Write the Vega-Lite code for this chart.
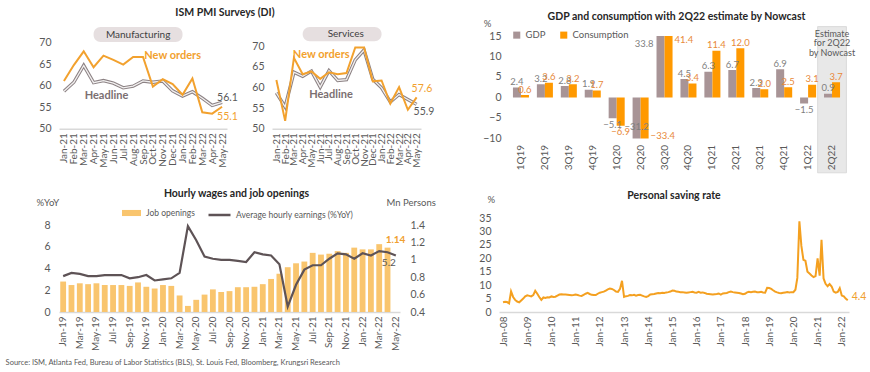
{
  "$schema": "https://vega.github.io/schema/vega-lite/v6.json",
  "background": "white",
  "padding": {"left": 5, "top": 8, "right": 5, "bottom": 4},
  "title": {"text": "Source: ISM, Atlanta Fed, Bureau of Labor Statistics (BLS), St. Louis Fed, Bloomberg, Krungsri Research", "orient": "bottom", "anchor": "start", "fontSize": 7.5, "fontWeight": "normal", "font": "Lato", "color": "#595959", "dx": -28, "offset": 9},
  "resolve": {"scale": {"color": "independent", "fill": "independent", "stroke": "independent"}},
  "datasets": {
    "ism": [
      {"m": "Jan-21", "mh": 58.7, "mn": 61.1, "sh": 58.7, "sn": 61.8},
      {"m": "Feb-21", "mh": 60.8, "mn": 64.8, "sh": 55.3, "sn": 51.9},
      {"m": "Mar-21", "mh": 64.7, "mn": 68.0, "sh": 63.7, "sn": 67.2},
      {"m": "Apr-21", "mh": 60.7, "mn": 64.3, "sh": 62.7, "sn": 63.2},
      {"m": "May-21", "mh": 61.2, "mn": 67.0, "sh": 64.0, "sn": 63.9},
      {"m": "Jun-21", "mh": 60.6, "mn": 66.0, "sh": 60.1, "sn": 62.1},
      {"m": "Jul-21", "mh": 59.5, "mn": 64.9, "sh": 64.1, "sn": 63.7},
      {"m": "Aug-21", "mh": 59.9, "mn": 66.7, "sh": 61.7, "sn": 63.2},
      {"m": "Sep-21", "mh": 61.1, "mn": 66.7, "sh": 61.9, "sn": 63.5},
      {"m": "Oct-21", "mh": 60.8, "mn": 59.8, "sh": 66.7, "sn": 69.7},
      {"m": "Nov-21", "mh": 61.1, "mn": 61.5, "sh": 69.1, "sn": 69.7},
      {"m": "Dec-21", "mh": 58.8, "mn": 60.4, "sh": 62.0, "sn": 61.5},
      {"m": "Jan-22", "mh": 57.6, "mn": 57.9, "sh": 59.9, "sn": 61.7},
      {"m": "Feb-22", "mh": 58.6, "mn": 61.7, "sh": 56.5, "sn": 56.1},
      {"m": "Mar-22", "mh": 57.1, "mn": 53.8, "sh": 58.3, "sn": 60.1},
      {"m": "Apr-22", "mh": 55.4, "mn": 53.5, "sh": 57.1, "sn": 54.6},
      {"m": "May-22", "mh": 56.1, "mn": 55.1, "sh": 55.9, "sn": 57.6}
    ],
    "gdp": [
      {"q": "1Q19", "s": "GDP", "v": 2.4}, {"q": "1Q19", "s": "Consumption", "v": 0.6},
      {"q": "2Q19", "s": "GDP", "v": 3.2}, {"q": "2Q19", "s": "Consumption", "v": 3.6},
      {"q": "3Q19", "s": "GDP", "v": 2.8}, {"q": "3Q19", "s": "Consumption", "v": 3.2},
      {"q": "4Q19", "s": "GDP", "v": 1.9}, {"q": "4Q19", "s": "Consumption", "v": 1.7},
      {"q": "1Q20", "s": "GDP", "v": -5.1}, {"q": "1Q20", "s": "Consumption", "v": -6.9},
      {"q": "2Q20", "s": "GDP", "v": -31.2}, {"q": "2Q20", "s": "Consumption", "v": -33.4},
      {"q": "3Q20", "s": "GDP", "v": 33.8}, {"q": "3Q20", "s": "Consumption", "v": 41.4},
      {"q": "4Q20", "s": "GDP", "v": 4.5}, {"q": "4Q20", "s": "Consumption", "v": 3.4},
      {"q": "1Q21", "s": "GDP", "v": 6.3}, {"q": "1Q21", "s": "Consumption", "v": 11.4},
      {"q": "2Q21", "s": "GDP", "v": 6.7}, {"q": "2Q21", "s": "Consumption", "v": 12.0},
      {"q": "3Q21", "s": "GDP", "v": 2.3}, {"q": "3Q21", "s": "Consumption", "v": 2.0},
      {"q": "4Q21", "s": "GDP", "v": 6.9}, {"q": "4Q21", "s": "Consumption", "v": 2.5},
      {"q": "1Q22", "s": "GDP", "v": -1.5}, {"q": "1Q22", "s": "Consumption", "v": 3.1},
      {"q": "2Q22", "s": "GDP", "v": 0.9}, {"q": "2Q22", "s": "Consumption", "v": 3.7}
    ],
    "wages": [
      {"m": "Jan-19", "ahe": 3.3, "jo": 0.75}, {"m": "Feb-19", "ahe": 3.6, "jo": 0.71},
      {"m": "Mar-19", "ahe": 3.5, "jo": 0.73}, {"m": "Apr-19", "ahe": 3.3, "jo": 0.72},
      {"m": "May-19", "ahe": 3.3, "jo": 0.73}, {"m": "Jun-19", "ahe": 3.4, "jo": 0.71},
      {"m": "Jul-19", "ahe": 3.4, "jo": 0.71}, {"m": "Aug-19", "ahe": 3.4, "jo": 0.71},
      {"m": "Sep-19", "ahe": 3.1, "jo": 0.70}, {"m": "Oct-19", "ahe": 3.2, "jo": 0.74},
      {"m": "Nov-19", "ahe": 3.4, "jo": 0.69}, {"m": "Dec-19", "ahe": 2.9, "jo": 0.67},
      {"m": "Jan-20", "ahe": 3.0, "jo": 0.71}, {"m": "Feb-20", "ahe": 3.1, "jo": 0.70},
      {"m": "Mar-20", "ahe": 3.6, "jo": 0.59}, {"m": "Apr-20", "ahe": 7.9, "jo": 0.47},
      {"m": "May-20", "ahe": 6.6, "jo": 0.54}, {"m": "Jun-20", "ahe": 5.1, "jo": 0.60},
      {"m": "Jul-20", "ahe": 4.9, "jo": 0.66}, {"m": "Aug-20", "ahe": 4.8, "jo": 0.63},
      {"m": "Sep-20", "ahe": 4.8, "jo": 0.64}, {"m": "Oct-20", "ahe": 4.7, "jo": 0.685},
      {"m": "Nov-20", "ahe": 4.6, "jo": 0.685}, {"m": "Dec-20", "ahe": 5.5, "jo": 0.69},
      {"m": "Jan-21", "ahe": 5.3, "jo": 0.72}, {"m": "Feb-21", "ahe": 5.2, "jo": 0.78},
      {"m": "Mar-21", "ahe": 4.4, "jo": 0.84}, {"m": "Apr-21", "ahe": 0.5, "jo": 0.915},
      {"m": "May-21", "ahe": 2.5, "jo": 0.96}, {"m": "Jun-21", "ahe": 3.9, "jo": 0.98},
      {"m": "Jul-21", "ahe": 4.3, "jo": 1.08}, {"m": "Aug-21", "ahe": 4.3, "jo": 1.06},
      {"m": "Sep-21", "ahe": 4.9, "jo": 1.07}, {"m": "Oct-21", "ahe": 5.4, "jo": 1.10},
      {"m": "Nov-21", "ahe": 5.3, "jo": 1.08}, {"m": "Dec-21", "ahe": 4.9, "jo": 1.14},
      {"m": "Jan-22", "ahe": 5.4, "jo": 1.12}, {"m": "Feb-22", "ahe": 5.2, "jo": 1.12},
      {"m": "Mar-22", "ahe": 5.6, "jo": 1.18}, {"m": "Apr-22", "ahe": 5.5, "jo": 1.14},
      {"m": "May-22", "ahe": 5.2, "jo": null}
    ],
    "saving": [
      {"d": "2008-01", "v": 3.6}, {"d": "2008-02", "v": 3.8}, {"d": "2008-03", "v": 3.7}, {"d": "2008-04", "v": 3.2}, {"d": "2008-05", "v": 7.7}, {"d": "2008-06", "v": 5.6}, {"d": "2008-07", "v": 4.5}, {"d": "2008-08", "v": 3.9}, {"d": "2008-09", "v": 3.6}, {"d": "2008-10", "v": 4.3}, {"d": "2008-11", "v": 5.0}, {"d": "2008-12", "v": 5.8},
      {"d": "2009-01", "v": 6.2}, {"d": "2009-02", "v": 6.0}, {"d": "2009-03", "v": 5.8}, {"d": "2009-04", "v": 6.3}, {"d": "2009-05", "v": 7.9}, {"d": "2009-06", "v": 6.8}, {"d": "2009-07", "v": 5.6}, {"d": "2009-08", "v": 4.5}, {"d": "2009-09", "v": 5.4}, {"d": "2009-10", "v": 5.2}, {"d": "2009-11", "v": 5.5}, {"d": "2009-12", "v": 5.4},
      {"d": "2010-01", "v": 5.8}, {"d": "2010-02", "v": 5.6}, {"d": "2010-03", "v": 5.7}, {"d": "2010-04", "v": 6.1}, {"d": "2010-05", "v": 6.5}, {"d": "2010-06", "v": 6.6}, {"d": "2010-07", "v": 6.5}, {"d": "2010-08", "v": 6.5}, {"d": "2010-09", "v": 6.4}, {"d": "2010-10", "v": 6.3}, {"d": "2010-11", "v": 6.2}, {"d": "2010-12", "v": 6.3},
      {"d": "2011-01", "v": 6.5}, {"d": "2011-02", "v": 6.3}, {"d": "2011-03", "v": 6.1}, {"d": "2011-04", "v": 6.0}, {"d": "2011-05", "v": 6.4}, {"d": "2011-06", "v": 6.8}, {"d": "2011-07", "v": 7.1}, {"d": "2011-08", "v": 6.7}, {"d": "2011-09", "v": 6.4}, {"d": "2011-10", "v": 6.3}, {"d": "2011-11", "v": 6.3}, {"d": "2011-12", "v": 6.8},
      {"d": "2012-01", "v": 7.2}, {"d": "2012-02", "v": 7.4}, {"d": "2012-03", "v": 7.6}, {"d": "2012-04", "v": 8.0}, {"d": "2012-05", "v": 8.4}, {"d": "2012-06", "v": 8.7}, {"d": "2012-07", "v": 8.6}, {"d": "2012-08", "v": 8.2}, {"d": "2012-09", "v": 7.6}, {"d": "2012-10", "v": 7.5}, {"d": "2012-11", "v": 8.6}, {"d": "2012-12", "v": 11.6},
      {"d": "2013-01", "v": 5.6}, {"d": "2013-02", "v": 5.9}, {"d": "2013-03", "v": 6.0}, {"d": "2013-04", "v": 6.3}, {"d": "2013-05", "v": 6.2}, {"d": "2013-06", "v": 6.4}, {"d": "2013-07", "v": 6.1}, {"d": "2013-08", "v": 6.3}, {"d": "2013-09", "v": 6.4}, {"d": "2013-10", "v": 6.1}, {"d": "2013-11", "v": 5.8}, {"d": "2013-12", "v": 5.6},
      {"d": "2014-01", "v": 5.9}, {"d": "2014-02", "v": 6.5}, {"d": "2014-03", "v": 6.6}, {"d": "2014-04", "v": 6.7}, {"d": "2014-05", "v": 6.9}, {"d": "2014-06", "v": 7.1}, {"d": "2014-07", "v": 7.0}, {"d": "2014-08", "v": 7.2}, {"d": "2014-09", "v": 7.1}, {"d": "2014-10", "v": 7.3}, {"d": "2014-11", "v": 7.4}, {"d": "2014-12", "v": 7.6},
      {"d": "2015-01", "v": 8.0}, {"d": "2015-02", "v": 7.9}, {"d": "2015-03", "v": 7.6}, {"d": "2015-04", "v": 7.5}, {"d": "2015-05", "v": 7.4}, {"d": "2015-06", "v": 7.4}, {"d": "2015-07", "v": 7.3}, {"d": "2015-08", "v": 7.2}, {"d": "2015-09", "v": 7.3}, {"d": "2015-10", "v": 7.4}, {"d": "2015-11", "v": 7.5}, {"d": "2015-12", "v": 7.3},
      {"d": "2016-01", "v": 7.2}, {"d": "2016-02", "v": 7.5}, {"d": "2016-03", "v": 7.2}, {"d": "2016-04", "v": 7.3}, {"d": "2016-05", "v": 7.1}, {"d": "2016-06", "v": 6.8}, {"d": "2016-07", "v": 6.7}, {"d": "2016-08", "v": 6.6}, {"d": "2016-09", "v": 6.5}, {"d": "2016-10", "v": 6.6}, {"d": "2016-11", "v": 6.7}, {"d": "2016-12", "v": 6.9},
      {"d": "2017-01", "v": 6.5}, {"d": "2017-02", "v": 6.9}, {"d": "2017-03", "v": 7.0}, {"d": "2017-04", "v": 7.1}, {"d": "2017-05", "v": 7.4}, {"d": "2017-06", "v": 7.6}, {"d": "2017-07", "v": 7.4}, {"d": "2017-08", "v": 7.3}, {"d": "2017-09", "v": 7.2}, {"d": "2017-10", "v": 7.1}, {"d": "2017-11", "v": 6.9}, {"d": "2017-12", "v": 6.6},
      {"d": "2018-01", "v": 6.8}, {"d": "2018-02", "v": 7.3}, {"d": "2018-03", "v": 7.5}, {"d": "2018-04", "v": 7.4}, {"d": "2018-05", "v": 7.5}, {"d": "2018-06", "v": 7.6}, {"d": "2018-07", "v": 7.4}, {"d": "2018-08", "v": 7.4}, {"d": "2018-09", "v": 7.5}, {"d": "2018-10", "v": 7.3}, {"d": "2018-11", "v": 7.2}, {"d": "2018-12", "v": 9.0},
      {"d": "2019-01", "v": 8.9}, {"d": "2019-02", "v": 8.6}, {"d": "2019-03", "v": 8.1}, {"d": "2019-04", "v": 7.6}, {"d": "2019-05", "v": 7.3}, {"d": "2019-06", "v": 7.1}, {"d": "2019-07", "v": 7.0}, {"d": "2019-08", "v": 7.2}, {"d": "2019-09", "v": 7.3}, {"d": "2019-10", "v": 7.4}, {"d": "2019-11", "v": 7.3}, {"d": "2019-12", "v": 7.4},
      {"d": "2020-01", "v": 7.4}, {"d": "2020-02", "v": 8.3}, {"d": "2020-03", "v": 12.7}, {"d": "2020-04", "v": 33.8}, {"d": "2020-05", "v": 24.6}, {"d": "2020-06", "v": 19.4}, {"d": "2020-07", "v": 19.1}, {"d": "2020-08", "v": 15.0}, {"d": "2020-09", "v": 14.3}, {"d": "2020-10", "v": 13.6}, {"d": "2020-11", "v": 13.0}, {"d": "2020-12", "v": 13.4},
      {"d": "2021-01", "v": 20.0}, {"d": "2021-02", "v": 13.5}, {"d": "2021-03", "v": 26.9}, {"d": "2021-04", "v": 12.5}, {"d": "2021-05", "v": 10.5}, {"d": "2021-06", "v": 9.6}, {"d": "2021-07", "v": 10.4}, {"d": "2021-08", "v": 9.5}, {"d": "2021-09", "v": 7.6}, {"d": "2021-10", "v": 7.2}, {"d": "2021-11", "v": 7.5}, {"d": "2021-12", "v": 8.9},
      {"d": "2022-01", "v": 6.1}, {"d": "2022-02", "v": 5.8}, {"d": "2022-03", "v": 5.0}, {"d": "2022-04", "v": 4.4}
    ]
  },
  "spacing": 14,
  "vconcat": [
    {
      "spacing": 47,
      "resolve": {"scale": {"color": "independent", "fill": "independent", "stroke": "independent"}},
      "hconcat": [
        {
          "title": {"text": "ISM PMI Surveys (DI)", "anchor": "middle", "dx": -9, "offset": 8},
          "spacing": 13,
          "hconcat": [
            {
              "width": 168, "height": 92.7,
              "data": {"name": "ism"},
              "encoding": {
                "x": {"field": "m", "type": "ordinal", "scale": {"type": "point", "padding": 0.5, "domain": ["Jan-21", "Feb-21", "Mar-21", "Apr-21", "May-21", "Jun-21", "Jul-21", "Aug-21", "Sep-21", "Oct-21", "Nov-21", "Dec-21", "Jan-22", "Feb-22", "Mar-22", "Apr-22", "May-22"]},
                  "axis": {"title": null, "labelAngle": -90, "labelPadding": 4, "labelFontSize": 10, "domainColor": "#d9d9d9", "domainWidth": 1.5}}
              },
              "layer": [
                {"data": {"values": [{}]}, "mark": {"type": "rect", "cornerRadius": 7, "fill": "#e6dfe0"},
                  "encoding": {
                    "x": {"datum": "Apr-21", "type": "ordinal", "scale": {"type": "point", "padding": 0.5, "domain": ["Jan-21", "Feb-21", "Mar-21", "Apr-21", "May-21", "Jun-21", "Jul-21", "Aug-21", "Sep-21", "Oct-21", "Nov-21", "Dec-21", "Jan-22", "Feb-22", "Mar-22", "Apr-22", "May-22"]}, "axis": {"title": null, "labelAngle": -90, "labelPadding": 4, "labelFontSize": 10, "domainColor": "#d9d9d9", "domainWidth": 1.5}},
                    "x2": {"datum": "Jan-22"},
                    "y": {"datum": 73.65, "type": "quantitative", "scale": {"domain": [50, 71.56]}, "axis": {"title": null, "values": [50, 55, 60, 65, 70], "labelOverlap": false, "domain": false, "labelPadding": 8, "minExtent": 25.4, "maxExtent": 25.4, "labelFontSize": 10.5}},
                    "y2": {"datum": 70.15}}},
                {"data": {"values": [{}]}, "mark": {"type": "text", "text": "Manufacturing", "fontSize": 10, "color": "#404040", "dx": 5},
                  "encoding": {
                    "x": {"datum": "Aug-21", "type": "ordinal", "scale": {"type": "point", "padding": 0.5, "domain": ["Jan-21", "Feb-21", "Mar-21", "Apr-21", "May-21", "Jun-21", "Jul-21", "Aug-21", "Sep-21", "Oct-21", "Nov-21", "Dec-21", "Jan-22", "Feb-22", "Mar-22", "Apr-22", "May-22"]}, "axis": {"title": null, "labelAngle": -90, "labelPadding": 4, "labelFontSize": 10, "domainColor": "#d9d9d9", "domainWidth": 1.5}},
                    "y": {"datum": 71.9, "type": "quantitative", "scale": {"domain": [50, 71.56]}, "axis": {"title": null, "values": [50, 55, 60, 65, 70], "labelOverlap": false, "domain": false, "labelPadding": 8, "minExtent": 25.4, "maxExtent": 25.4, "labelFontSize": 10.5}}}},
                {"mark": {"type": "line", "stroke": "#8c8284", "strokeWidth": 3.4},
                  "encoding": {"y": {"field": "mh", "type": "quantitative", "scale": {"domain": [50, 71.56]}, "axis": {"title": null, "values": [50, 55, 60, 65, 70], "labelOverlap": false, "domain": false, "labelPadding": 8, "minExtent": 25.4, "maxExtent": 25.4, "labelFontSize": 10.5}}}},
                {"mark": {"type": "line", "stroke": "#f2f0f0", "strokeWidth": 1.3},
                  "encoding": {"y": {"field": "mh", "type": "quantitative", "scale": {"domain": [50, 71.56]}, "axis": {"title": null, "values": [50, 55, 60, 65, 70], "labelOverlap": false, "domain": false, "labelPadding": 8, "minExtent": 25.4, "maxExtent": 25.4, "labelFontSize": 10.5}}}},
                {"mark": {"type": "line", "stroke": "#F2A12E", "strokeWidth": 2},
                  "encoding": {"y": {"field": "mn", "type": "quantitative", "scale": {"domain": [50, 71.56]}, "axis": {"title": null, "values": [50, 55, 60, 65, 70], "labelOverlap": false, "domain": false, "labelPadding": 8, "minExtent": 25.4, "maxExtent": 25.4, "labelFontSize": 10.5}}}},
                {"data": {"values": [{}]}, "mark": {"type": "text", "text": "New orders", "fontSize": 11, "fontWeight": "bold", "color": "#F2A12E"},
                  "encoding": {
                    "x": {"datum": "Dec-21", "type": "ordinal", "scale": {"type": "point", "padding": 0.5, "domain": ["Jan-21", "Feb-21", "Mar-21", "Apr-21", "May-21", "Jun-21", "Jul-21", "Aug-21", "Sep-21", "Oct-21", "Nov-21", "Dec-21", "Jan-22", "Feb-22", "Mar-22", "Apr-22", "May-22"]}, "axis": {"title": null, "labelAngle": -90, "labelPadding": 4, "labelFontSize": 10, "domainColor": "#d9d9d9", "domainWidth": 1.5}},
                    "y": {"datum": 66.9, "type": "quantitative", "scale": {"domain": [50, 71.56]}, "axis": {"title": null, "values": [50, 55, 60, 65, 70], "labelOverlap": false, "domain": false, "labelPadding": 8, "minExtent": 25.4, "maxExtent": 25.4, "labelFontSize": 10.5}}}},
                {"data": {"values": [{}]}, "mark": {"type": "text", "text": "Headline", "fontSize": 11, "fontWeight": "bold", "color": "#7b6f71", "dx": 3},
                  "encoding": {
                    "x": {"datum": "May-21", "type": "ordinal", "scale": {"type": "point", "padding": 0.5, "domain": ["Jan-21", "Feb-21", "Mar-21", "Apr-21", "May-21", "Jun-21", "Jul-21", "Aug-21", "Sep-21", "Oct-21", "Nov-21", "Dec-21", "Jan-22", "Feb-22", "Mar-22", "Apr-22", "May-22"]}, "axis": {"title": null, "labelAngle": -90, "labelPadding": 4, "labelFontSize": 10, "domainColor": "#d9d9d9", "domainWidth": 1.5}},
                    "y": {"datum": 57.6, "type": "quantitative", "scale": {"domain": [50, 71.56]}, "axis": {"title": null, "values": [50, 55, 60, 65, 70], "labelOverlap": false, "domain": false, "labelPadding": 8, "minExtent": 25.4, "maxExtent": 25.4, "labelFontSize": 10.5}}}},
                {"transform": [{"filter": "datum.m == 'May-22'"}],
                  "mark": {"type": "text", "align": "left", "dx": -5, "dy": -4, "fontSize": 10.5, "color": "#595959"},
                  "encoding": {
                    "y": {"field": "mh", "type": "quantitative", "scale": {"domain": [50, 71.56]}, "axis": {"title": null, "values": [50, 55, 60, 65, 70], "labelOverlap": false, "domain": false, "labelPadding": 8, "minExtent": 25.4, "maxExtent": 25.4, "labelFontSize": 10.5}},
                    "text": {"field": "mh", "type": "quantitative", "format": ".1f"}}},
                {"transform": [{"filter": "datum.m == 'May-22'"}],
                  "mark": {"type": "text", "align": "left", "dx": -5, "dy": 10, "fontSize": 10.5, "color": "#F2A12E"},
                  "encoding": {
                    "y": {"field": "mn", "type": "quantitative", "scale": {"domain": [50, 71.56]}, "axis": {"title": null, "values": [50, 55, 60, 65, 70], "labelOverlap": false, "domain": false, "labelPadding": 8, "minExtent": 25.4, "maxExtent": 25.4, "labelFontSize": 10.5}},
                    "text": {"field": "mn", "type": "quantitative", "format": ".1f"}}}
              ]
            },
            {
              "width": 149, "height": 92.7,
              "data": {"name": "ism"},
              "encoding": {
                "x": {"field": "m", "type": "ordinal", "scale": {"type": "point", "padding": 0.5, "domain": ["Jan-21", "Feb-21", "Mar-21", "Apr-21", "May-21", "Jun-21", "Jul-21", "Aug-21", "Sep-21", "Oct-21", "Nov-21", "Dec-21", "Jan-22", "Feb-22", "Mar-22", "Apr-22", "May-22"]},
                  "axis": {"title": null, "labelAngle": -90, "labelPadding": 4, "labelFontSize": 10, "domainColor": "#d9d9d9", "domainWidth": 1.5}}
              },
              "layer": [
                {"data": {"values": [{}]}, "mark": {"type": "rect", "cornerRadius": 7, "fill": "#e6dfe0"},
                  "encoding": {
                    "x": {"datum": "Apr-21", "type": "ordinal", "scale": {"type": "point", "padding": 0.5, "domain": ["Jan-21", "Feb-21", "Mar-21", "Apr-21", "May-21", "Jun-21", "Jul-21", "Aug-21", "Sep-21", "Oct-21", "Nov-21", "Dec-21", "Jan-22", "Feb-22", "Mar-22", "Apr-22", "May-22"]}, "axis": {"title": null, "labelAngle": -90, "labelPadding": 4, "labelFontSize": 10, "domainColor": "#d9d9d9", "domainWidth": 1.5}},
                    "x2": {"datum": "Jan-22"},
                    "y": {"datum": 74.7, "type": "quantitative", "scale": {"domain": [50, 72.5]}, "axis": {"title": null, "values": [50, 55, 60, 65, 70], "labelOverlap": false, "domain": false, "labelPadding": 8, "minExtent": 18, "maxExtent": 18, "labelFontSize": 10.5}},
                    "y2": {"datum": 71.2}}},
                {"data": {"values": [{}]}, "mark": {"type": "text", "text": "Services", "fontSize": 10, "color": "#404040", "dx": 8},
                  "encoding": {
                    "x": {"datum": "Aug-21", "type": "ordinal", "scale": {"type": "point", "padding": 0.5, "domain": ["Jan-21", "Feb-21", "Mar-21", "Apr-21", "May-21", "Jun-21", "Jul-21", "Aug-21", "Sep-21", "Oct-21", "Nov-21", "Dec-21", "Jan-22", "Feb-22", "Mar-22", "Apr-22", "May-22"]}, "axis": {"title": null, "labelAngle": -90, "labelPadding": 4, "labelFontSize": 10, "domainColor": "#d9d9d9", "domainWidth": 1.5}},
                    "y": {"datum": 73.0, "type": "quantitative", "scale": {"domain": [50, 72.5]}, "axis": {"title": null, "values": [50, 55, 60, 65, 70], "labelOverlap": false, "domain": false, "labelPadding": 8, "minExtent": 18, "maxExtent": 18, "labelFontSize": 10.5}}}},
                {"mark": {"type": "line", "stroke": "#8c8284", "strokeWidth": 3.4},
                  "encoding": {"y": {"field": "sh", "type": "quantitative", "scale": {"domain": [50, 72.5]}, "axis": {"title": null, "values": [50, 55, 60, 65, 70], "labelOverlap": false, "domain": false, "labelPadding": 8, "minExtent": 18, "maxExtent": 18, "labelFontSize": 10.5}}}},
                {"mark": {"type": "line", "stroke": "#f2f0f0", "strokeWidth": 1.3},
                  "encoding": {"y": {"field": "sh", "type": "quantitative", "scale": {"domain": [50, 72.5]}, "axis": {"title": null, "values": [50, 55, 60, 65, 70], "labelOverlap": false, "domain": false, "labelPadding": 8, "minExtent": 18, "maxExtent": 18, "labelFontSize": 10.5}}}},
                {"mark": {"type": "line", "stroke": "#F2A12E", "strokeWidth": 2},
                  "encoding": {"y": {"field": "sn", "type": "quantitative", "scale": {"domain": [50, 72.5]}, "axis": {"title": null, "values": [50, 55, 60, 65, 70], "labelOverlap": false, "domain": false, "labelPadding": 8, "minExtent": 18, "maxExtent": 18, "labelFontSize": 10.5}}}},
                {"data": {"values": [{}]}, "mark": {"type": "text", "text": "New orders", "fontSize": 11, "fontWeight": "bold", "color": "#F2A12E", "dx": 1},
                  "encoding": {
                    "x": {"datum": "Jun-21", "type": "ordinal", "scale": {"type": "point", "padding": 0.5, "domain": ["Jan-21", "Feb-21", "Mar-21", "Apr-21", "May-21", "Jun-21", "Jul-21", "Aug-21", "Sep-21", "Oct-21", "Nov-21", "Dec-21", "Jan-22", "Feb-22", "Mar-22", "Apr-22", "May-22"]}, "axis": {"title": null, "labelAngle": -90, "labelPadding": 4, "labelFontSize": 10, "domainColor": "#d9d9d9", "domainWidth": 1.5}},
                    "y": {"datum": 68.0, "type": "quantitative", "scale": {"domain": [50, 72.5]}, "axis": {"title": null, "values": [50, 55, 60, 65, 70], "labelOverlap": false, "domain": false, "labelPadding": 8, "minExtent": 18, "maxExtent": 18, "labelFontSize": 10.5}}}},
                {"data": {"values": [{}]}, "mark": {"type": "text", "text": "Headline", "fontSize": 11, "fontWeight": "bold", "color": "#7b6f71", "dx": 2},
                  "encoding": {
                    "x": {"datum": "Jul-21", "type": "ordinal", "scale": {"type": "point", "padding": 0.5, "domain": ["Jan-21", "Feb-21", "Mar-21", "Apr-21", "May-21", "Jun-21", "Jul-21", "Aug-21", "Sep-21", "Oct-21", "Nov-21", "Dec-21", "Jan-22", "Feb-22", "Mar-22", "Apr-22", "May-22"]}, "axis": {"title": null, "labelAngle": -90, "labelPadding": 4, "labelFontSize": 10, "domainColor": "#d9d9d9", "domainWidth": 1.5}},
                    "y": {"datum": 58.3, "type": "quantitative", "scale": {"domain": [50, 72.5]}, "axis": {"title": null, "values": [50, 55, 60, 65, 70], "labelOverlap": false, "domain": false, "labelPadding": 8, "minExtent": 18, "maxExtent": 18, "labelFontSize": 10.5}}}},
                {"transform": [{"filter": "datum.m == 'May-22'"}],
                  "mark": {"type": "text", "align": "left", "dx": -5, "dy": -8.5, "fontSize": 10.5, "color": "#F2A12E"},
                  "encoding": {
                    "y": {"field": "sn", "type": "quantitative", "scale": {"domain": [50, 72.5]}, "axis": {"title": null, "values": [50, 55, 60, 65, 70], "labelOverlap": false, "domain": false, "labelPadding": 8, "minExtent": 18, "maxExtent": 18, "labelFontSize": 10.5}},
                    "text": {"field": "sn", "type": "quantitative", "format": ".1f"}}},
                {"transform": [{"filter": "datum.m == 'May-22'"}],
                  "mark": {"type": "text", "align": "left", "dx": -3, "dy": 7.5, "fontSize": 10.5, "color": "#595959"},
                  "encoding": {
                    "y": {"field": "sh", "type": "quantitative", "scale": {"domain": [50, 72.5]}, "axis": {"title": null, "values": [50, 55, 60, 65, 70], "labelOverlap": false, "domain": false, "labelPadding": 8, "minExtent": 18, "maxExtent": 18, "labelFontSize": 10.5}},
                    "text": {"field": "sh", "type": "quantitative", "format": ".1f"}}}
              ]
            }
          ]
        },
        {
          "width": 335, "height": 102.4,
          "title": {"text": "GDP and consumption with 2Q22 estimate by Nowcast", "frame": "group", "offset": -4, "dx": 0},
          "data": {"name": "gdp"},
          "encoding": {
            "x": {"field": "q", "type": "ordinal",
              "scale": {"domain": ["1Q19", "2Q19", "3Q19", "4Q19", "1Q20", "2Q20", "3Q20", "4Q20", "1Q21", "2Q21", "3Q21", "4Q21", "1Q22", "2Q22"], "paddingInner": 0.33, "paddingOuter": 0.165},
              "axis": {"title": null, "labelAngle": -90, "domain": false, "labelPadding": 6, "labelFontSize": 10, "zindex": 1}}
          },
          "layer": [
            {"data": {"values": [{}]}, "mark": {"type": "bar", "fill": "#e8e8e8", "stroke": "#d6d6d6", "strokeWidth": 0.8, "width": {"band": 1.8}},
              "encoding": {
                "x": {"datum": "2Q22", "type": "ordinal", "scale": {"domain": ["1Q19", "2Q19", "3Q19", "4Q19", "1Q20", "2Q20", "3Q20", "4Q20", "1Q21", "2Q21", "3Q21", "4Q21", "1Q22", "2Q22"], "paddingInner": 0.33, "paddingOuter": 0.165}, "axis": {"title": null, "labelAngle": -90, "domain": false, "labelPadding": 6, "labelFontSize": 10, "zindex": 1}},
                "y": {"datum": 17.3, "type": "quantitative", "scale": {"domain": [-10, 15]}, "axis": {"title": "%", "titleAngle": 0, "titleX": -22, "titleY": -13, "titleAlign": "center", "titleBaseline": "middle", "values": [-10, -5, 0, 5, 10, 15], "labelOverlap": false, "domain": false, "labelPadding": 8, "minExtent": 25, "maxExtent": 25, "labelFontSize": 10.5}},
                "y2": {"datum": -18.4}}},
            {"data": {"values": [{}]}, "mark": {"type": "rule", "color": "#d9d9d9", "strokeWidth": 1.5},
              "encoding": {
                "y": {"datum": 0, "type": "quantitative", "scale": {"domain": [-10, 15]}, "axis": {"title": "%", "titleAngle": 0, "titleX": -22, "titleY": -13, "titleAlign": "center", "titleBaseline": "middle", "values": [-10, -5, 0, 5, 10, 15], "labelOverlap": false, "domain": false, "labelPadding": 8, "minExtent": 25, "maxExtent": 25, "labelFontSize": 10.5}}}},
            {"mark": {"type": "bar", "clip": true},
              "encoding": {
                "xOffset": {"field": "s", "type": "nominal", "scale": {"domain": ["GDP", "Consumption"]}},
                "y": {"field": "v", "type": "quantitative", "scale": {"domain": [-10, 15]}, "axis": {"title": "%", "titleAngle": 0, "titleX": -22, "titleY": -13, "titleAlign": "center", "titleBaseline": "middle", "values": [-10, -5, 0, 5, 10, 15], "labelOverlap": false, "domain": false, "labelPadding": 8, "minExtent": 25, "maxExtent": 25, "labelFontSize": 10.5}},
                "color": {"field": "s", "type": "nominal", "scale": {"domain": ["GDP", "Consumption"], "range": ["#A89496", "#FF9900"]},
                  "legend": {"title": null, "orient": "none", "legendX": 3, "legendY": -6, "direction": "horizontal", "symbolType": "square", "symbolSize": 50, "columnPadding": 13, "labelFontSize": 9.5}}
              }},
            {"transform": [
                {"filter": "(datum.v <= 15 && datum.v >= -10) || (datum.v < -10 && datum.s == 'GDP')"},
                {"calculate": "datum.v < -10 ? -7.3 : (datum.v >= 0 ? datum.v + 1.3 : datum.v - 1.6)", "as": "ly"}
              ],
              "mark": {"type": "text", "fontSize": 9.5},
              "encoding": {
                "xOffset": {"field": "s", "type": "nominal", "scale": {"domain": ["GDP", "Consumption"]}},
                "y": {"field": "ly", "type": "quantitative", "scale": {"domain": [-10, 15]}, "axis": {"title": "%", "titleAngle": 0, "titleX": -22, "titleY": -13, "titleAlign": "center", "titleBaseline": "middle", "values": [-10, -5, 0, 5, 10, 15], "labelOverlap": false, "domain": false, "labelPadding": 8, "minExtent": 25, "maxExtent": 25, "labelFontSize": 10.5}},
                "text": {"field": "v", "type": "quantitative", "format": ".1f"},
                "fill": {"field": "s", "type": "nominal", "scale": {"domain": ["GDP", "Consumption"], "range": ["#7f7f7f", "#E8893A"]}, "legend": null}
              }},
            {"transform": [
                {"filter": "datum.v > 15 && datum.s == 'GDP'"},
                {"calculate": "13", "as": "ly"}
              ],
              "mark": {"type": "text", "fontSize": 9.5, "align": "right", "dx": -7},
              "encoding": {
                "xOffset": {"field": "s", "type": "nominal", "scale": {"domain": ["GDP", "Consumption"]}},
                "y": {"field": "ly", "type": "quantitative", "scale": {"domain": [-10, 15]}, "axis": {"title": "%", "titleAngle": 0, "titleX": -22, "titleY": -13, "titleAlign": "center", "titleBaseline": "middle", "values": [-10, -5, 0, 5, 10, 15], "labelOverlap": false, "domain": false, "labelPadding": 8, "minExtent": 25, "maxExtent": 25, "labelFontSize": 10.5}},
                "text": {"field": "v", "type": "quantitative", "format": ".1f"},
                "fill": {"field": "s", "type": "nominal", "scale": {"domain": ["GDP", "Consumption"], "range": ["#7f7f7f", "#E8893A"]}, "legend": null}
              }},
            {"transform": [
                {"filter": "(datum.v > 15 || datum.v < -10) && datum.s == 'Consumption'"},
                {"calculate": "datum.v > 15 ? 14 : -9.5", "as": "ly"}
              ],
              "mark": {"type": "text", "fontSize": 9.5, "align": "left", "dx": 6},
              "encoding": {
                "xOffset": {"field": "s", "type": "nominal", "scale": {"domain": ["GDP", "Consumption"]}},
                "y": {"field": "ly", "type": "quantitative", "scale": {"domain": [-10, 15]}, "axis": {"title": "%", "titleAngle": 0, "titleX": -22, "titleY": -13, "titleAlign": "center", "titleBaseline": "middle", "values": [-10, -5, 0, 5, 10, 15], "labelOverlap": false, "domain": false, "labelPadding": 8, "minExtent": 25, "maxExtent": 25, "labelFontSize": 10.5}},
                "text": {"field": "v", "type": "quantitative", "format": ".1f"},
                "fill": {"field": "s", "type": "nominal", "scale": {"domain": ["GDP", "Consumption"], "range": ["#7f7f7f", "#E8893A"]}, "legend": null}
              }},
            {"data": {"values": [{}]}, "mark": {"type": "text", "text": ["Estimate", "for 2Q22", "by Nowcast"], "baseline": "top", "lineHeight": 9.5, "fontSize": 9, "color": "#595959"},
              "encoding": {
                "x": {"datum": "2Q22", "type": "ordinal", "scale": {"domain": ["1Q19", "2Q19", "3Q19", "4Q19", "1Q20", "2Q20", "3Q20", "4Q20", "1Q21", "2Q21", "3Q21", "4Q21", "1Q22", "2Q22"], "paddingInner": 0.33, "paddingOuter": 0.165}, "axis": {"title": null, "labelAngle": -90, "domain": false, "labelPadding": 6, "labelFontSize": 10, "zindex": 1}},
                "y": {"datum": 16.5, "type": "quantitative", "scale": {"domain": [-10, 15]}, "axis": {"title": "%", "titleAngle": 0, "titleX": -22, "titleY": -13, "titleAlign": "center", "titleBaseline": "middle", "values": [-10, -5, 0, 5, 10, 15], "labelOverlap": false, "domain": false, "labelPadding": 8, "minExtent": 25, "maxExtent": 25, "labelFontSize": 10.5}}}}
          ]
        }
      ]
    },
    {
      "spacing": 42,
      "resolve": {"scale": {"color": "independent", "fill": "independent", "stroke": "independent"}},
      "hconcat": [
        {
          "width": 341, "height": 94,
          "title": {"text": "Hourly wages and job openings", "frame": "group", "dx": 7, "offset": -2},
          "data": {"name": "wages"},
          "encoding": {
            "x": {"field": "m", "type": "ordinal", "sort": null,
              "scale": {"paddingInner": 0.3, "paddingOuter": 0.15},
              "axis": {"title": null, "labelAngle": -90, "values": ["Jan-19", "Mar-19", "May-19", "Jul-19", "Sep-19", "Nov-19", "Jan-20", "Mar-20", "May-20", "Jul-20", "Sep-20", "Nov-20", "Jan-21", "Mar-21", "May-21", "Jul-21", "Sep-21", "Nov-21", "Jan-22", "Mar-22", "May-22"], "domainColor": "#d9d9d9", "domainWidth": 1.5, "labelPadding": 4, "labelFontSize": 10}}
          },
          "resolve": {"scale": {"y": "independent"}},
          "layer": [
            {
              "layer": [
                {"mark": {"type": "bar", "fill": "#F9C56E"},
                  "encoding": {
                    "y": {"field": "jo", "type": "quantitative", "scale": {"domain": [0.4, 1.4807], "zero": false},
                      "axis": {"orient": "right", "title": "Mn Persons", "titleAngle": 0, "titleAlign": "left", "titleBaseline": "middle", "titleX": -14, "titleY": -16, "values": [0.4, 0.6, 0.8, 1, 1.2, 1.4], "labelOverlap": false, "format": "~g", "domain": false, "labelPadding": 10, "labelFontSize": 10.5}},
                    "y2": {"datum": 0.4},
                    "color": {"datum": "Job openings", "scale": {"range": ["#F9C56E"]},
                      "legend": {"title": null, "orient": "none", "legendX": 62, "legendY": -15.5, "symbolType": "M-1,-0.32H1V0.32H-1Z", "symbolSize": 361, "labelFontSize": 8.5}}
                  }},
                {"transform": [{"filter": "datum.m == 'Apr-22'"}],
                  "mark": {"type": "text", "dx": 8, "dy": -8, "fontSize": 10, "fontWeight": "bold", "color": "#F0A030"},
                  "encoding": {
                    "y": {"field": "jo", "type": "quantitative", "scale": {"domain": [0.4, 1.4807], "zero": false},
                      "axis": {"orient": "right", "title": "Mn Persons", "titleAngle": 0, "titleAlign": "left", "titleBaseline": "middle", "titleX": -14, "titleY": -16, "values": [0.4, 0.6, 0.8, 1, 1.2, 1.4], "labelOverlap": false, "format": "~g", "domain": false, "labelPadding": 10, "labelFontSize": 10.5}},
                    "text": {"field": "jo", "type": "quantitative", "format": ".2f"}}}
              ]
            },
            {
              "layer": [
                {"mark": {"type": "line", "strokeWidth": 2.2},
                  "encoding": {
                    "y": {"field": "ahe", "type": "quantitative", "scale": {"domain": [0, 8.646]},
                      "axis": {"orient": "left", "title": "%YoY", "titleAngle": 0, "titleAlign": "left", "titleBaseline": "middle", "titleX": -23, "titleY": -15.3, "values": [0, 2, 4, 6, 8], "labelOverlap": false, "domain": false, "labelPadding": 9, "minExtent": 20, "maxExtent": 20, "labelFontSize": 10.5}},
                    "stroke": {"datum": "Average hourly earnings (%YoY)", "scale": {"range": ["#5E5356"]},
                      "legend": {"title": null, "orient": "none", "legendX": 148, "legendY": -15.5, "symbolType": "stroke", "symbolSize": 484, "symbolStrokeWidth": 2.5, "labelFontSize": 8.5}}
                  }},
                {"transform": [{"filter": "datum.m == 'May-22'"}],
                  "mark": {"type": "text", "align": "right", "dx": 0, "dy": 8, "fontSize": 10, "color": "#595959"},
                  "encoding": {
                    "y": {"field": "ahe", "type": "quantitative", "scale": {"domain": [0, 8.646]},
                      "axis": {"orient": "left", "title": "%YoY", "titleAngle": 0, "titleAlign": "left", "titleBaseline": "middle", "titleX": -23, "titleY": -15.3, "values": [0, 2, 4, 6, 8], "labelOverlap": false, "domain": false, "labelPadding": 9, "minExtent": 20, "maxExtent": 20, "labelFontSize": 10.5}},
                    "text": {"field": "ahe", "type": "quantitative", "format": ".1f"}}}
              ]
            }
          ]
        },
        {
          "width": 350, "height": 94,
          "title": {"text": "Personal saving rate", "frame": "group", "offset": -7},
          "data": {"name": "saving"},
          "encoding": {
            "x": {"field": "d", "type": "temporal",
              "scale": {"type": "utc", "domain": [1193875200000, 1650412800000]},
              "axis": {"title": null, "format": "%b-%y", "tickCount": {"interval": "year", "step": 1}, "labelAngle": -90, "labelOverlap": false, "labelFlush": false, "labelPadding": 4, "labelFontSize": 10, "domainColor": "#d9d9d9", "domainWidth": 1.5}},
            "y": {"field": "v", "type": "quantitative", "scale": {"domain": [0, 35]},
              "axis": {"title": "%", "titleAngle": 0, "titleX": -8.3, "titleY": -19, "titleAlign": "center", "titleBaseline": "middle", "values": [0, 5, 10, 15, 20, 25, 30, 35], "labelOverlap": false, "domain": false, "labelPadding": 8, "minExtent": 20, "maxExtent": 20, "labelFontSize": 10.5}}
          },
          "layer": [
            {"mark": {"type": "line", "stroke": "#F4A020", "strokeWidth": 2}},
            {"transform": [{"filter": "utcyear(datum.d) == 2022 && utcmonth(datum.d) == 3"}],
              "mark": {"type": "text", "align": "left", "dx": 4, "dy": -3, "fontSize": 10.5, "color": "#F0A030"},
              "encoding": {"text": {"field": "v", "type": "quantitative", "format": ".1f"}}}
          ]
        }
      ]
    }
  ],
  "config": {
    "view": {"stroke": null},
    "font": "Lato",
    "title": {"font": "Lato", "fontSize": 10.5, "fontWeight": "bold", "color": "#262626"},
    "axis": {"labelFont": "Lato", "labelColor": "#595959", "ticks": false, "grid": false, "domainColor": "#d9d9d9", "titleFont": "Lato", "titleFontWeight": "normal", "titleFontSize": 9.5, "titleColor": "#595959"},
    "legend": {"labelFont": "Lato", "labelColor": "#595959"}
  }
}
